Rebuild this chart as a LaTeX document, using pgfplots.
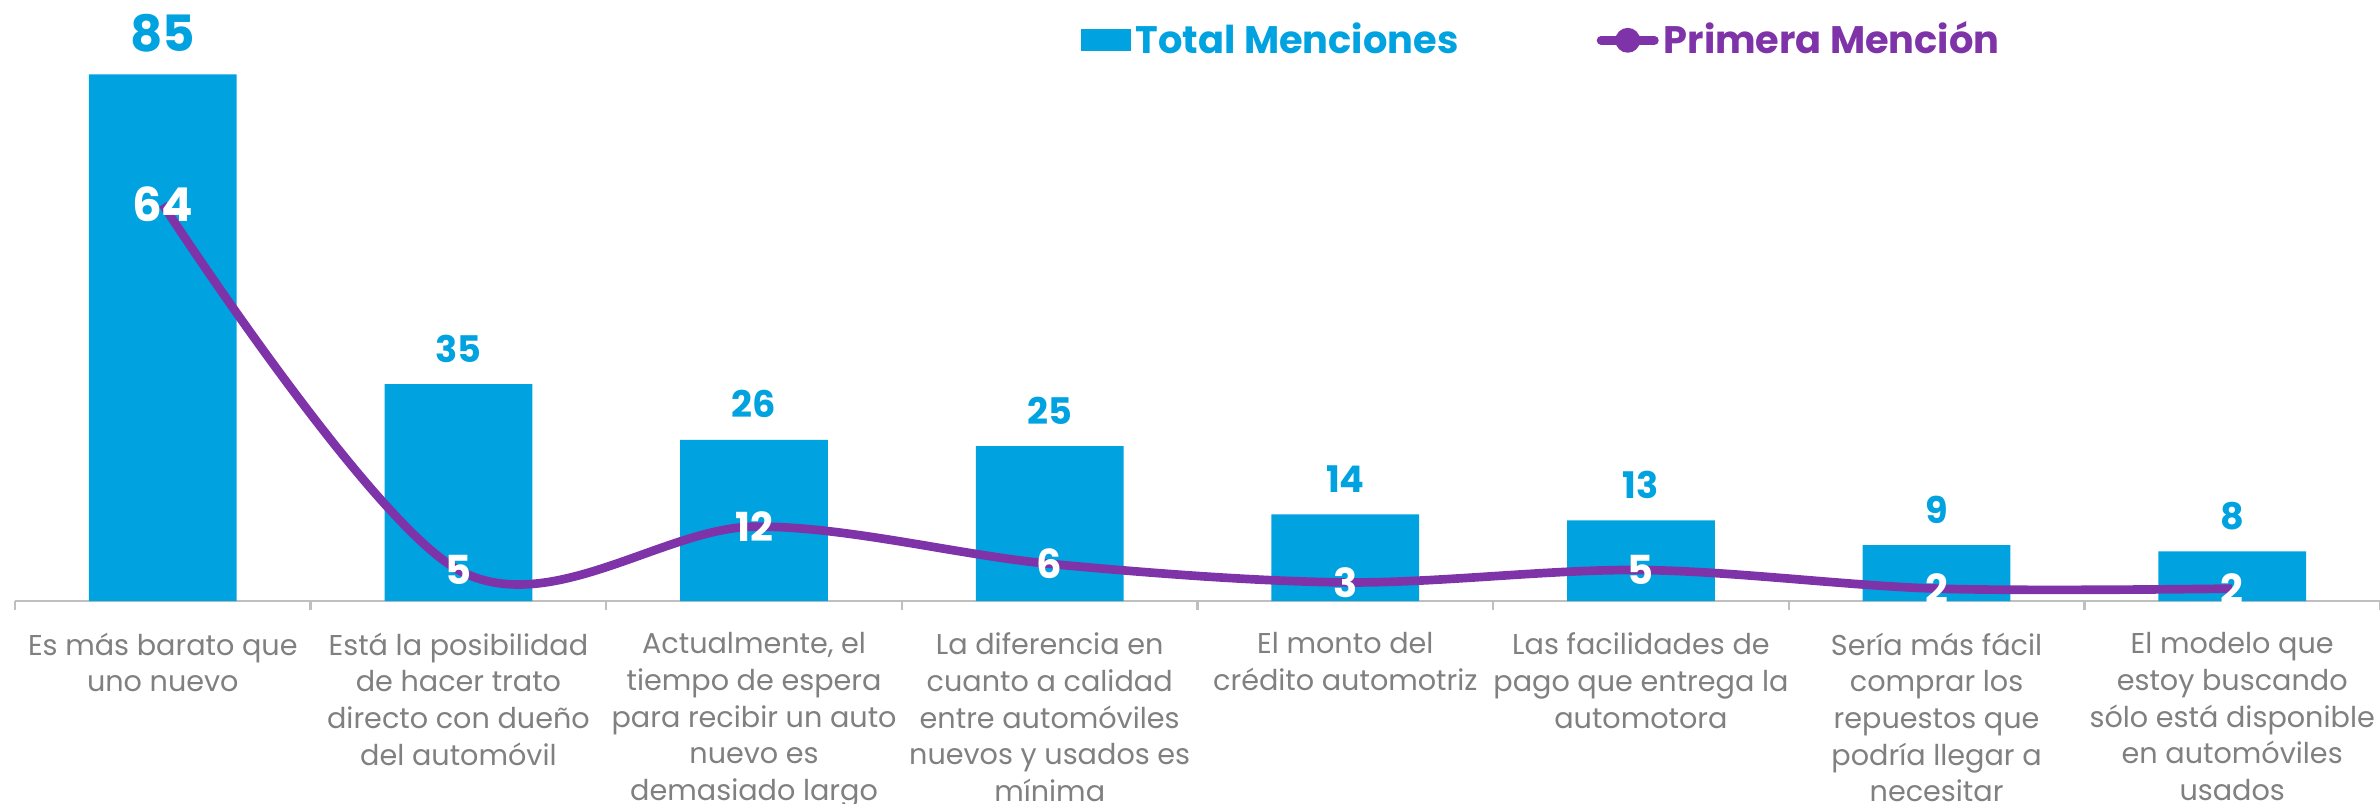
\documentclass[border=0pt]{standalone}
\usepackage{pgfplots}
\pgfplotsset{compat=1.18}
\usepackage{fontspec}
\setmainfont{Poppins}
\definecolor{barblue}{HTML}{00A3E0}
\definecolor{linepurple}{HTML}{7F33A8}
\definecolor{labgray}{HTML}{808080}
\definecolor{axgray}{HTML}{BFBFBF}
\newcommand{\bigb}[1]{{\fontsize{15}{15}\selectfont #1}}
\newcommand{\bigp}[1]{{\fontsize{14}{14}\selectfont #1}}
\begin{document}
\begin{tikzpicture}
\useasboundingbox (-4.5pt,-60.6pt) rectangle (709.5pt,180.3pt);
\begin{axis}[
  scale only axis, width=709.5pt, height=180.3pt,
  xmin=-0.5, xmax=7.5, ymin=0, ymax=97,
  axis y line=none, axis x line*=bottom,
  x axis line style={axgray, line width=0.7pt, -},
  tick align=outside,
  xtick={0,...,7},
  xticklabels={
    {Es más barato que\\uno nuevo},
    {Está la posibilidad\\de hacer trato\\directo con dueño\\del automóvil},
    {Actualmente, el\\tiempo de espera\\para recibir un auto\\nuevo es\\demasiado largo},
    {La diferencia en\\cuanto a calidad\\entre automóviles\\nuevos y usados es\\mínima},
    {El monto del\\crédito automotriz},
    {Las facilidades de\\pago que entrega la\\automotora},
    {Sería más fácil\\comprar los\\repuestos que\\podría llegar a\\necesitar},
    {El modelo que\\estoy buscando\\sólo está disponible\\en automóviles\\usados}},
  major tick length=0pt,
  extra x ticks={-0.5,0.5,1.5,2.5,3.5,4.5,5.5,6.5,7.5},
  extra x tick labels={},
  extra x tick style={major tick length=2.7pt, tick style={axgray, line width=0.7pt}},
  xticklabel style={font=\fontsize{8.6}{11}\selectfont, text=labgray, align=center, anchor=north, yshift=-6pt},
  clip=false,
  legend style={draw=none, fill=none, inner sep=0pt, outer sep=0pt,
    at={(rel axis cs:0.4507,0.933)}, anchor=west, legend columns=2,
    /tikz/every even column/.append style={column sep=40pt},
    nodes={inner sep=1.5pt, font=\bfseries\fontsize{11.5}{12}\selectfont}},
]
\addplot[ybar, bar width=0.5, fill=barblue, draw=none,
  point meta=explicit symbolic, nodes near coords,
  every node near coord/.append style={font=\bfseries\fontsize{11}{11}\selectfont, text=barblue, yshift=3pt},
  legend image code/.code={\fill[barblue] (0pt,-3.3pt) rectangle (15pt,3.3pt);}]
  coordinates {(0,85)[\bigb{85}] (1,35)[35] (2,26)[26] (3,25)[25] (4,14)[14] (5,13)[13] (6,9)[9] (7,8)[8]};
\addlegendentry{\textcolor{barblue}{Total Menciones}}
\addplot[linepurple, line width=2.6pt, smooth, tension=0.55, mark=none,
  point meta=explicit symbolic, nodes near coords,
  every node near coord/.append style={anchor=center, text=white, font=\bfseries\fontsize{12}{12}\selectfont},
  legend image code/.code={\draw[linepurple, line width=2.6pt, line cap=round] (0pt,0pt) -- (16pt,0pt); \fill[linepurple] (8pt,0pt) circle (2.4pt);}]
  coordinates {(0,64)[\bigp{64}] (1,5)[5] (2,12)[12] (3,6)[6] (4,3)[3] (5,5)[5] (6,2)[2] (7,2)[2]};
\addlegendentry{\textcolor{linepurple}{Primera Mención}}
\end{axis}
\end{tikzpicture}
\end{document}
